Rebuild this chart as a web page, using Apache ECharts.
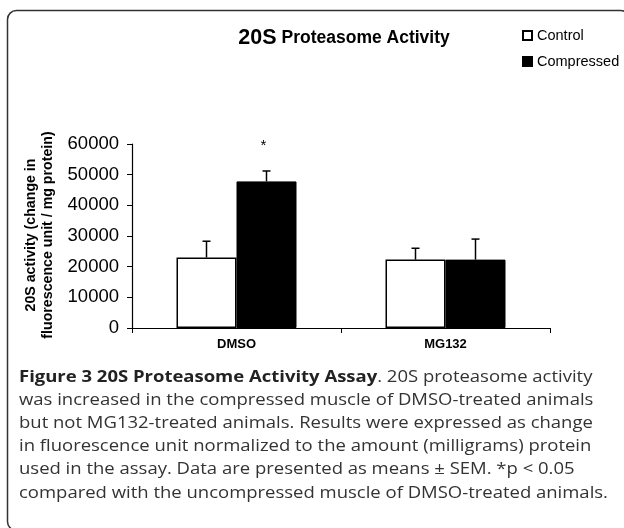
<!DOCTYPE html>
<html>
<head>
<meta charset="utf-8">
<script src="https://cdn.jsdelivr.net/npm/echarts@6/dist/echarts.min.js"></script>
<style>
  html, body { margin: 0; padding: 0; background: #fff; }
  #chart { width: 624px; height: 528px; }
</style>
</head>
<body>
<div id="chart"></div>
<script>
// data
const groups = ['DMSO', 'MG132'];
const controlMean = [23000, 22300];
const controlSem = [5300, 3700];
const compressedMean = [47800, 22300];
const compressedSem = [3400, 6700];
const compressedMark = ['*', ''];
const yMin = 0, yMax = 60000, yStep = 10000;

const captionBold = 'Figure 3 20S Proteasome Activity Assay';
const captionLines = [
  '. 20S proteasome activity',
  'was increased in the compressed muscle of DMSO-treated animals',
  'but not MG132-treated animals. Results were expressed as change',
  'in fluorescence unit normalized to the amount (milligrams) protein',
  'used in the assay. Data are presented as means \u00b1 SEM. *p < 0.05',
  'compared with the uncompressed muscle of DMSO-treated animals.'
];

const BAR_W = 60;
const FONT = 'Liberation Sans, Arial, sans-serif';
const CAP_FONT = 'Open Sans, Noto Sans, sans-serif';
const CAP_SCALE = 1.155; // the caption in the figure is a bit wider than Open Sans

const myChart = echarts.init(document.getElementById('chart'));

// error bars: [category, mean, sem, side(-1 control / +1 compressed)]
const errData = [];
const errMarks = [];
groups.forEach((g, i) => {
  errData.push([i, controlMean[i], controlSem[i], -1]);
  errMarks.push('');
  errData.push([i, compressedMean[i], compressedSem[i], 1]);
  errMarks.push(compressedMark[i]);
});

function renderErr(params, api) {
  const cat = api.value(0);
  const mean = api.value(1);
  const sem = api.value(2);
  const side = api.value(3);
  const base = api.coord([cat, mean]);
  const top = api.coord([cat, mean + sem]);
  const x = base[0] + side * BAR_W / 2;
  const children = [
    { type: 'line', shape: { x1: x, y1: base[1], x2: x, y2: top[1] }, style: { stroke: '#000', lineWidth: 1.5 } },
    { type: 'line', shape: { x1: x - 4, y1: top[1], x2: x + 4, y2: top[1] }, style: { stroke: '#000', lineWidth: 1.5 } }
  ];
  const mark = errMarks[params.dataIndex];
  if (mark) {
    children.push({
      type: 'text',
      style: { text: mark, x: x - 3, y: top[1] - 25, fill: '#000', font: '15px ' + FONT, align: 'center', verticalAlign: 'middle' }
    });
  }
  return { type: 'group', children: children };
}

// caption as graphic texts
const captionGraphics = [];
captionGraphics.push({
  type: 'text', x: 19, y: 369, scaleX: CAP_SCALE,
  style: {
    text: '{b|' + captionBold + '}{n|' + captionLines[0] + '}',
    verticalAlign: 'top',
    rich: {
      b: { fontFamily: CAP_FONT, fontSize: 16, fontWeight: 'bold', fill: '#222' },
      n: { fontFamily: CAP_FONT, fontSize: 16, fill: '#333' }
    }
  }
});
for (let i = 1; i < captionLines.length; i++) {
  captionGraphics.push({
    type: 'text', x: 19, y: 369 + i * 23.2, scaleX: CAP_SCALE,
    style: { text: captionLines[i], fontFamily: CAP_FONT, fontSize: 16, fill: '#333', verticalAlign: 'top' }
  });
}

var option = {
  animation: false,
  backgroundColor: '#fff',
  title: {
    text: '{a|20S} {b|Proteasome Activity}',
    left: 339,
    top: 22,
    textAlign: 'center',
    textStyle: {
      rich: {
        a: { fontFamily: FONT, fontSize: 21.5, fontWeight: 'bold', color: '#000' },
        b: { fontFamily: FONT, fontSize: 17.5, fontWeight: 'bold', color: '#000' }
      }
    }
  },
  legend: {
    data: ['Control', 'Compressed'],
    orient: 'vertical',
    left: 517,
    top: 23,
    itemWidth: 9,
    itemHeight: 9,
    itemGap: 11,
    icon: 'rect',
    textStyle: { fontFamily: FONT, fontSize: 14.5, color: '#000', padding: [0, 0, 0, 0] }
  },
  grid: {
    left: 132,
    right: 74,
    top: 144,
    bottom: 200
  },
  xAxis: {
    type: 'category',
    data: groups,
    axisLine: { lineStyle: { color: '#000', width: 1.2 } },
    axisTick: { show: true, length: 5, lineStyle: { color: '#000' } },
    axisLabel: { fontFamily: FONT, fontSize: 13, fontWeight: 'bold', color: '#000', margin: 10 }
  },
  yAxis: {
    type: 'value',
    min: yMin,
    max: yMax,
    interval: yStep,
    axisLine: { show: true, lineStyle: { color: '#000', width: 1.2 } },
    axisTick: { show: true, length: 5, lineStyle: { color: '#000' } },
    axisLabel: {
      fontFamily: FONT, fontSize: 18.5, color: '#000', margin: 13,
      formatter: v => String(v)
    },
    splitLine: { show: false }
  },
  graphic: [
    {
      type: 'rect', left: 5, top: 8,
      shape: { width: 622, height: 520, r: 9 },
      style: { fill: 'none', stroke: '#333', lineWidth: 1.5 }
    },
    {
      type: 'text',
      x: 39.5, y: 235,
      rotation: Math.PI / 2,
      style: {
        text: '20S activity (change in\nfluorescence unit / mg protein)',
        fontFamily: FONT, fontSize: 14.2, fontWeight: 'bold', fill: '#000',
        align: 'center', verticalAlign: 'middle', lineHeight: 17
      }
    }
  ].concat(captionGraphics),
  series: [
    {
      name: 'Control',
      type: 'bar',
      data: controlMean,
      barWidth: BAR_W,
      barGap: '0%',
      itemStyle: { color: '#fff', borderColor: '#000', borderWidth: 1.5 }
    },
    {
      name: 'Compressed',
      type: 'bar',
      data: compressedMean,
      barWidth: BAR_W,
      barGap: '0%',
      itemStyle: { color: '#000', borderColor: '#000', borderWidth: 1 }
    },
    {
      name: 'err',
      type: 'custom',
      renderItem: renderErr,
      data: errData,
      z: 5
    }
  ]
};

myChart.setOption(option);
</script>
</body>
</html>
